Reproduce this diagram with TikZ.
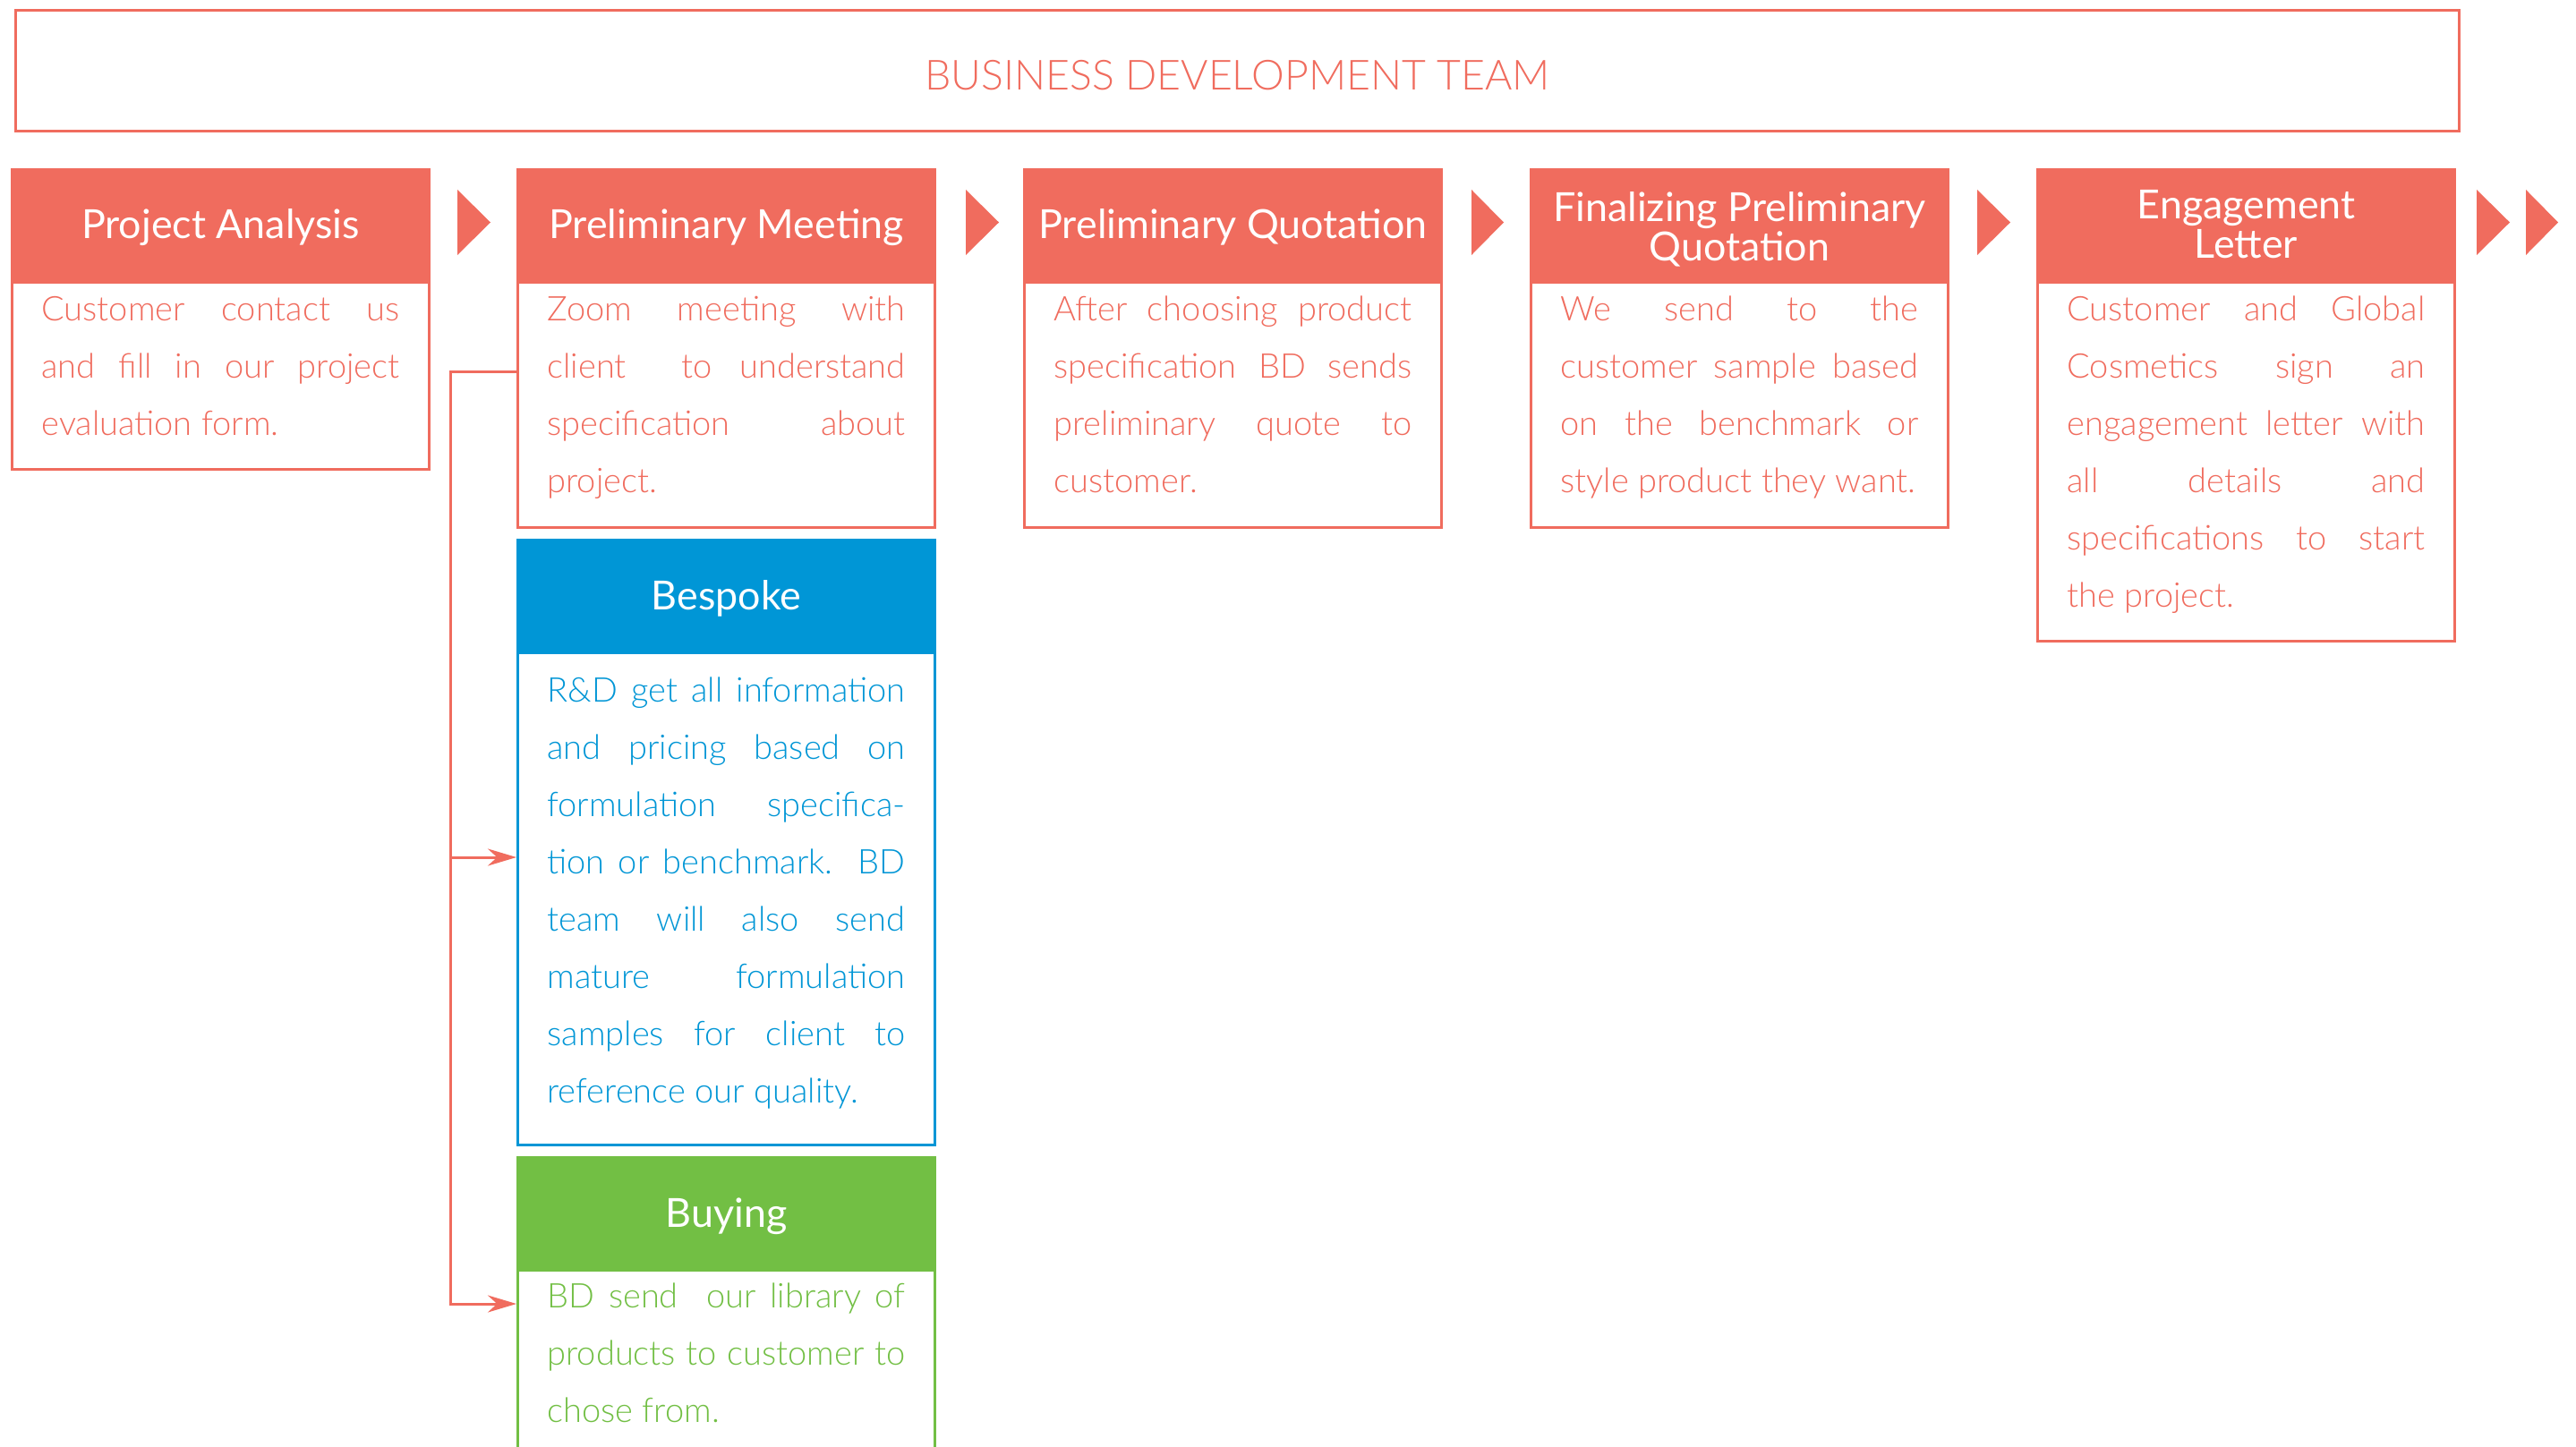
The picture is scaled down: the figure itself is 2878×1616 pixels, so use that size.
\documentclass[tikz,border=0pt]{standalone}
\usepackage{fontspec}
\setmainfont{Lato}
\newfontfamily\lightfont{Lato Light}
\usetikzlibrary{arrows.meta,calc}
\definecolor{salm}{HTML}{F06C5E}
\definecolor{bsp}{HTML}{0096D6}
\definecolor{buy}{HTML}{72BF44}
\newcommand{\bodyfont}{\lightfont\fontsize{9.5}{16}\selectfont\hyphenpenalty=10000\relax\tolerance=10000\relax}
\begin{document}
\begin{tikzpicture}[x=0.25pt,y=-0.25pt,
  hdr/.style={draw=#1,fill=#1,line width=0.75pt,anchor=north west,minimum width=116.5pt,minimum height=30.75pt,text=white,align=center,inner sep=2pt,font=\fontsize{11.2}{11}\selectfont},
  hdr/.default=salm,
  one/.style={text height=9pt,text depth=1pt},
  bdy/.style={draw=#1,line width=0.75pt,anchor=north west,text=#1,text width=100pt,inner xsep=8.25pt,inner ysep=0pt,align=justify,font=\bodyfont},
  bdy/.default=salm,
  tri/.style={fill=salm},
  conn/.style={draw=salm,line width=0.75pt},
  tip/.style={-{Stealth[length=8pt,width=4.75pt]}}]
\fill[white] (0,0) rectangle (2878,1616);
\useasboundingbox (0,0) rectangle (2878,1616);
\clip (0,0) rectangle (2878,1616);

\node[draw=salm,line width=0.75pt,anchor=north west,minimum width=682.5pt,minimum height=33.75pt,text=salm,text height=11.9pt,text depth=1pt,font=\lightfont\fontsize{11.6}{14}\selectfont] (title) at (16,10) {BUSINESS DEVELOPMENT TEAM};

% step 1
\node[hdr,one] (pah) at (12,188) {Project Analysis};
\node[bdy,text height=10.75pt,text depth=41.5pt] (pab) at (pah.south west) {Customer contact us\linebreak and fill in our project\linebreak evaluation form.};
% step 2
\node[hdr,one] (pmh) at (577,188) {Preliminary Meeting};
\node[bdy,text height=10.75pt,text depth=57.75pt] (pmb) at (pmh.south west) {Zoom meeting with\linebreak client\ \ to understand\linebreak specification about\linebreak project.};
% step 3
\node[hdr,one] (pqh) at (1143,188) {Preliminary Quotation};
\node[bdy,text height=10.75pt,text depth=57.75pt] (pqb) at (pqh.south west) {After choosing product\linebreak specification BD sends\linebreak preliminary quote to\linebreak customer.};
% step 4
\node[hdr] (fqh) at (1709,188) {\rule{0pt}{11pt}Finalizing Preliminary\\Quotation};
\node[bdy,text height=10.75pt,text depth=57.75pt] (fqb) at (fqh.south west) {We send to the\linebreak customer sample based\linebreak on the benchmark or\linebreak style product they want.};
% step 5
\node[hdr] (elh) at (2275,188) {Engagement\\Letter};
\node[bdy,text height=10.75pt,text depth=89.5pt] (elb) at (elh.south west) {Customer and Global\linebreak Cosmetics sign an\linebreak engagement letter with\linebreak all details and\linebreak specifications to start\linebreak the project.};

% bespoke
\node[hdr=bsp,one] (bsh) at (577,602) {Bespoke};
\node[bdy=bsp,text height=13.7pt,text depth=123.8pt] (bsb) at (bsh.south west) {R\&D get all information\linebreak and pricing based on\linebreak formulation specifica-\linebreak tion or benchmark. BD\linebreak team will also send\linebreak mature formulation\linebreak samples for client to\linebreak reference our quality.};
% buying
\node[hdr=buy,one] (byh) at (577,1292) {Buying};
\node[bdy=buy,text height=10.6pt,text depth=41.65pt] (byb) at (byh.south west) {BD send\ \ our library of\linebreak products to customer to\linebreak chose from.};

% chevrons
\fill[tri] (511,212) -- (548,248.5) -- (511,285) -- cycle;
\fill[tri] (1079,212) -- (1116,248.5) -- (1079,285) -- cycle;
\fill[tri] (1644,212) -- (1680,248.5) -- (1644,285) -- cycle;
\fill[tri] (2209,212) -- (2246,248.5) -- (2209,285) -- cycle;
\fill[tri] (2767,212) -- (2804,248.5) -- (2767,285) -- cycle;
\fill[tri] (2822,212) -- (2858,248.5) -- (2822,285) -- cycle;

% connectors
\coordinate (j1) at (503,415);
\coordinate (j2) at (503,958);
\coordinate (j3) at (503,1457);
\draw[conn,tip] (j1 -| pmb.west) -- (j1) -- (j3) -- (j3 -| byb.west);
\draw[conn,tip] (j2) -- (j2 -| bsb.west);
\end{tikzpicture}
\end{document}
